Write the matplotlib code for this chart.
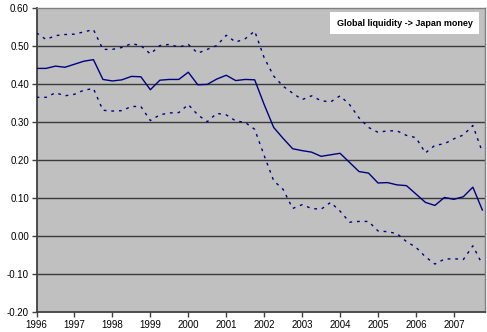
import matplotlib
matplotlib.use("Agg")
import matplotlib.pyplot as plt
import numpy as np

plt.rcParams['font.family'] = ['Liberation Sans', 'DejaVu Sans']

# quarterly estimates, 1996Q1 .. 2007Q4
central = [0.440, 0.440, 0.446, 0.443, 0.451, 0.459, 0.463, 0.411,
           0.407, 0.410, 0.419, 0.418, 0.384, 0.409, 0.411, 0.411,
           0.430, 0.397, 0.398, 0.412, 0.422, 0.408, 0.411, 0.410,
           0.345, 0.285, 0.256, 0.229, 0.224, 0.220, 0.209, 0.213,
           0.217, 0.193, 0.169, 0.165, 0.139, 0.140, 0.134, 0.132,
           0.110, 0.088, 0.080, 0.101, 0.096, 0.103, 0.128, 0.068]
upper = [0.533, 0.516, 0.526, 0.529, 0.530, 0.536, 0.542, 0.490,
         0.490, 0.495, 0.505, 0.500, 0.478, 0.500, 0.503, 0.496,
         0.503, 0.480, 0.490, 0.500, 0.527, 0.509, 0.518, 0.538,
         0.468, 0.420, 0.393, 0.375, 0.358, 0.368, 0.355, 0.352,
         0.368, 0.345, 0.310, 0.285, 0.272, 0.276, 0.276, 0.264,
         0.258, 0.218, 0.238, 0.242, 0.255, 0.265, 0.290, 0.220]
lower = [0.364, 0.364, 0.376, 0.368, 0.372, 0.383, 0.387, 0.330,
         0.328, 0.329, 0.340, 0.340, 0.303, 0.318, 0.323, 0.324,
         0.345, 0.318, 0.300, 0.322, 0.318, 0.302, 0.298, 0.280,
         0.211, 0.145, 0.122, 0.072, 0.082, 0.072, 0.070, 0.088,
         0.065, 0.036, 0.038, 0.038, 0.013, 0.011, 0.006, -0.015,
         -0.030, -0.055, -0.074, -0.061, -0.060, -0.062, -0.026, -0.075]
years = list(range(1996, 2008))
y_ticks = [-0.2, -0.1, 0.0, 0.1, 0.2, 0.3, 0.4, 0.5, 0.6]
title = "Global liquidity -> Japan money"

t = 1996 + np.arange(len(central)) / 4.0

fig = plt.figure(figsize=(4.87, 3.32), dpi=100)
ax = fig.add_axes([0.075, 0.0602, 0.9209, 0.9172])
ax.set_facecolor('#c0c0c0')

navy = '#000080'
ax.plot(t, central, color=navy, lw=1.0, zorder=3)
ax.plot(t, upper, color=navy, lw=1.0, dashes=(2, 3.5), zorder=3)
ax.plot(t, lower, color=navy, lw=1.0, dashes=(2, 3.5), zorder=3)

ax.set_xlim(1996, 2007.82)
ax.set_ylim(-0.2, 0.6)
ax.set_yticks(y_ticks)
ax.set_yticklabels([f"{v:.2f}" for v in y_ticks])
ax.set_xticks(years)
ax.set_xticklabels([str(y) for y in years])

for v in y_ticks[1:-1]:
    ax.axhline(v, color='#3a3a3a', lw=1.0, zorder=1)

for side in ['left', 'bottom']:
    ax.spines[side].set_color('#404040')
    ax.spines[side].set_linewidth(1.3)
for side in ['top', 'right']:
    ax.spines[side].set_color('#808080')
    ax.spines[side].set_linewidth(1.0)

ax.tick_params(axis='both', direction='out', length=3.5, width=1.0,
               color='#404040', labelsize=7, pad=2)

ax.text(0.972, 0.949, title, transform=ax.transAxes, ha='right', va='center',
        fontsize=6.5, fontweight='bold', zorder=5,
        bbox=dict(boxstyle='square,pad=0.7', fc='white', ec='none'))

fig.savefig('out.png', dpi=100)
